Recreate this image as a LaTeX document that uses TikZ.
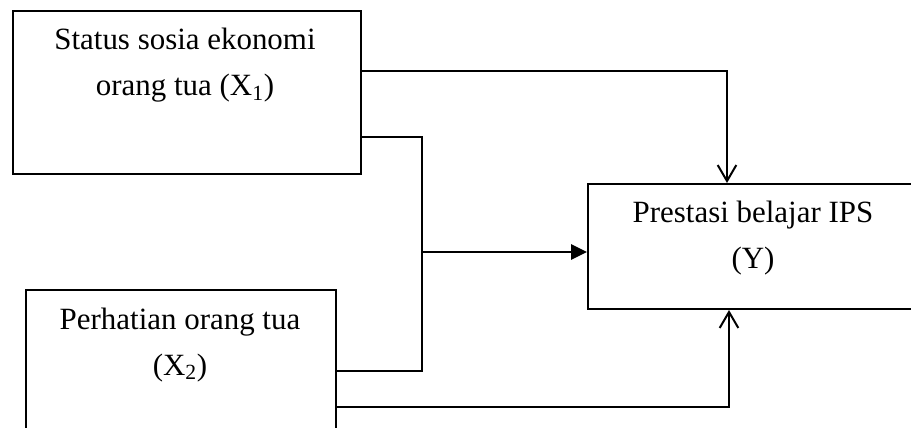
\documentclass[tikz,border=0pt]{standalone}
\usepackage{fontspec}
\setmainfont{Liberation Serif}
\usetikzlibrary{arrows.meta}
\begin{document}
\begin{tikzpicture}[x=0.75pt,y=-0.75pt,
  box/.style={draw,line width=1.5pt,rectangle,inner sep=0pt,anchor=north west},
  txt/.style={anchor=base,inner sep=0pt,font=\fontsize{23.2pt}{26pt}\selectfont},
  conn/.style={line width=1.2pt},
  openarr/.style={conn,-{Straight Barb[length=12pt,width=14pt,line width=1.5pt]}},
  fillarr/.style={conn,-{Triangle[length=12pt,width=11.5pt]}}]
\useasboundingbox (0,0) rectangle (911,428);
\clip (0,0) rectangle (911,428);
% boxes
\node[box,minimum width=348*0.75pt,minimum height=163*0.75pt] (b1) at (12,10) {};
\node[box,minimum width=310*0.75pt,minimum height=170*0.75pt] (b2) at (25,289) {};
\node[box,minimum width=332*0.75pt,minimum height=125*0.75pt] (y) at (587,183) {};
% texts
\node[txt] (t1a) at (185,50) {Status sosia ekonomi};
\node[txt] (t1b) at (185,96) {orang tua (X\textsubscript{1})};
\node[txt] (t2a) at (180,329) {Perhatian orang tua};
\node[txt] (t2b) at (180,375) {(X\textsubscript{2})};
\node[txt] (tya) at (753,222) {Prestasi belajar IPS};
\node[txt] (tyb) at (753,268) {(Y)};
% junction coordinates
\coordinate (j1) at (727,71);
\coordinate (j2a) at (422,137);
\coordinate (j2b) at (422,371);
\coordinate (j3) at (422,252);
\coordinate (j4) at (729,407);
% connectors
\draw[openarr] (b1.east |- j1) -- (j1) -- (j1 |- y.north);
\draw[conn] (b1.east |- j2a) -- (j2a) -- (j2b) -- (b2.east |- j2b);
\draw[fillarr] (j3) -- (y.west |- j3);
\draw[openarr] (b2.east |- j4) -- (j4) -- (j4 |- y.south);
\end{tikzpicture}
\end{document}
